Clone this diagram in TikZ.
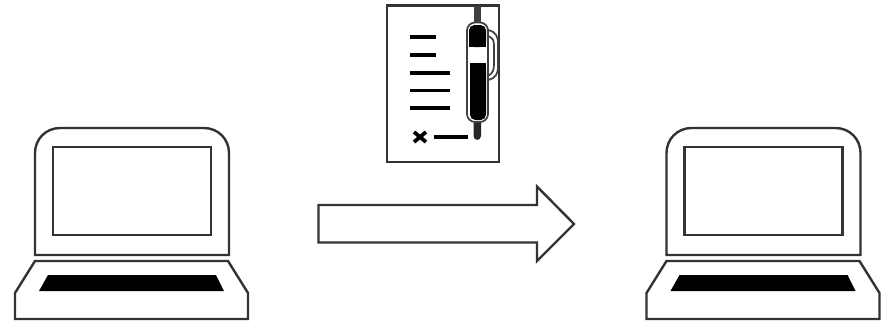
\documentclass[tikz,border=0pt]{standalone}
\tikzset{
  x=0.75pt,y=-0.75pt,
  outline/.style={draw=black!80,line width=1.8pt,line join=miter},
  thin outline/.style={draw=black!75,line width=1.3pt},
  ink/.style={draw=black,line width=2.4pt},
  solid ink/.style={fill=black},
  laptop/.pic={
    \draw[outline] (0,127) -- (0,25) .. controls (0,11) and (11,0) .. (25,0) -- (169,0) .. controls (183,0) and (194,11) .. (194,25) -- (194,127) -- cycle;
    \draw[outline] (18,19) rectangle (176,107);
    \draw[outline] (0,133) -- (193,133) -- (213,165) -- (213,191) -- (-20,191) -- (-20,165) -- cycle;
    \fill[solid ink] (13,147) -- (181,147) -- (189,163) -- (4,163) -- cycle;
  }
}
\begin{document}
\begin{tikzpicture}
\useasboundingbox (0,0) rectangle (889,322);
\fill[white] (0,0) rectangle (889,322);
\pic at (35,128) {laptop};
\pic at (666.5,128) {laptop};
% arrow
\draw[outline] (318.5,205) -- (537,205) -- (537,186.5) -- (574,224) -- (537,261) -- (537,242.5) -- (318.5,242.5) -- cycle;
% document
\draw[outline] (387,5.5) rectangle (499,162);
\draw[ink] (410,37) -- (436,37);
\draw[ink] (410,55) -- (436,55);
\draw[ink] (410,73) -- (450,73);
\draw[ink] (410,90.5) -- (450,90.5);
\draw[ink] (410,108) -- (450,108);
\draw[ink,line width=2.8pt] (414,132) -- (426,142) (426,132) -- (414,142);
\draw[ink] (434,137) -- (468,137);
% pen clip
\draw[thin outline] (488,30) .. controls (496,32) and (498,36) .. (498,44) -- (498,66) .. controls (498,74) and (496,78) .. (488,80);
\draw[thin outline] (488,36) .. controls (493,38) and (494,40) .. (494,46) -- (494,64) .. controls (494,70) and (493,73) .. (488,76);
% pen rod and tip
\fill[black!75] (473.5,6) rectangle (481,24);
\fill[black!85,rounded corners=3pt] (473.5,118) -- (473.5,140) -- (481,140) -- (481,118) -- cycle;
% pen body
\draw[thin outline,fill=white,rounded corners=6pt] (467,22.5) -- (488,22.5) -- (488,122) -- (467,122) -- cycle;
\fill[black,rounded corners=4pt] (469,25) -- (486,25) -- (486,47) -- (469,47) -- cycle;
\fill[black] (469,40) rectangle (486,47);
\fill[black,rounded corners=4pt] (470,63) -- (486,63) -- (486,120) -- (470,120) -- cycle;
\fill[black] (470,63) rectangle (486,70);
\end{tikzpicture}
\end{document}
